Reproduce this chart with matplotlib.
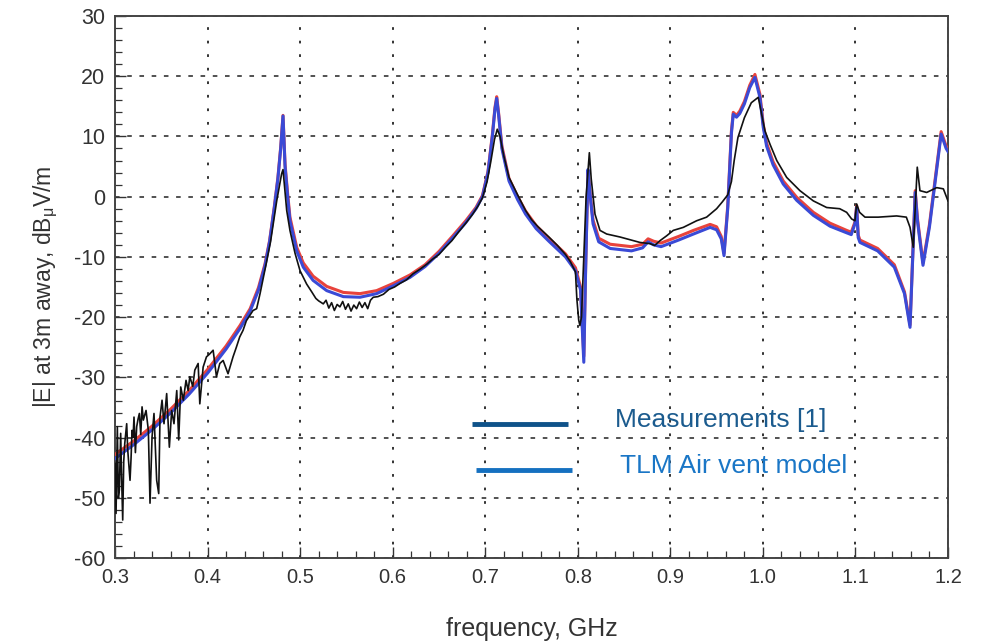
import matplotlib
matplotlib.use("Agg")
import matplotlib.pyplot as plt
from matplotlib.ticker import MultipleLocator

plt.rcParams['font.family'] = ['Liberation Sans', 'DejaVu Sans']
plt.rcParams['axes.unicode_minus'] = False
plt.rcParams['mathtext.fontset'] = 'custom'
plt.rcParams['mathtext.rm'] = 'Liberation Sans'
plt.rcParams['mathtext.it'] = 'Liberation Sans'

# model curves share one frequency grid (GHz)
f_model = [0.300, 0.320, 0.340, 0.360, 0.380, 0.400, 0.420, 0.435, 0.446, 0.455,
           0.462, 0.467, 0.472, 0.476, 0.479, 0.4815, 0.4837, 0.4865, 0.489, 0.4963,
           0.5034, 0.514, 0.5287, 0.5467, 0.5647, 0.5827, 0.6007, 0.6187, 0.635, 0.650,
           0.665, 0.679, 0.690, 0.697, 0.703, 0.7077, 0.7105, 0.7124, 0.7145, 0.718,
           0.7257, 0.735, 0.7436, 0.755, 0.7688, 0.7867, 0.7975, 0.803, 0.8065, 0.8085,
           0.811, 0.8135, 0.8165, 0.8226, 0.835, 0.858, 0.870, 0.876, 0.882, 0.890,
           0.909, 0.925, 0.943, 0.950, 0.955, 0.958, 0.962, 0.966, 0.968, 0.9715,
           0.975, 0.980, 0.9858, 0.9914, 0.9968, 1.0004, 1.004, 1.011, 1.022, 1.0365,
           1.0545, 1.0725, 1.0905, 1.0955, 1.0995, 1.1013, 1.103, 1.1049, 1.124, 1.142,
           1.153, 1.159, 1.1646, 1.167, 1.173, 1.180, 1.1926, 1.198, 1.200]

# TLM air vent model (blue)
e_tlm = [-43.5, -41.2, -38.7, -35.9, -32.8, -29.3, -25.3, -21.9, -19.0, -15.5,
         -11.5, -7.5, -2.0, 3.0, 8.0, 13.4, 5.0, 0.0, -4.0, -9.0,
         -11.7, -13.9, -15.6, -16.6, -16.7, -16.1, -14.8, -13.4, -11.6, -9.4,
         -6.8, -4.3, -2.0, 0.0, 4.0, 10.0, 14.5, 16.3, 13.5, 8.0,
         2.6, -0.5, -2.9, -5.3, -7.4, -10.0, -12.3, -15.5, -27.5, -12.0,
         4.5, 0.0, -4.5, -7.5, -8.6, -9.0, -8.5, -7.5, -8.0, -8.3,
         -7.2, -6.2, -5.1, -5.5, -7.0, -9.8, -2.0, 10.5, 13.7, 13.2,
         13.8, 15.4, 18.1, 19.8, 16.5, 11.5, 8.4, 5.3, 2.1, -0.6,
         -3.1, -4.9, -6.0, -6.3, -4.5, -1.8, -6.8, -7.6, -9.0, -11.7,
         -16.1, -21.7, 0.7, -4.0, -11.4, -5.0, 10.4, 8.0, 7.5]

# reference model (red)
e_ref = [-42.8, -40.6, -38.1, -35.3, -32.2, -28.7, -24.8, -21.4, -18.6, -15.1,
         -11.2, -7.3, -1.8, 3.2, 8.2, 13.5, 5.4, 0.5, -3.4, -8.4,
         -11.0, -13.2, -14.9, -15.9, -16.1, -15.6, -14.4, -13.0, -11.3, -9.1,
         -6.5, -4.0, -1.8, 0.2, 4.2, 10.3, 14.8, 16.6, 13.8, 8.4,
         3.0, 0.0, -2.4, -4.8, -6.9, -9.5, -11.8, -15.0, -26.5, -11.5,
         4.2, 0.3, -3.9, -6.9, -7.9, -8.3, -7.9, -7.0, -7.4, -7.7,
         -6.6, -5.6, -4.6, -5.0, -6.6, -9.4, -1.6, 10.9, 14.0, 13.5,
         14.2, 15.8, 18.5, 20.3, 17.0, 12.0, 8.9, 5.8, 2.6, -0.1,
         -2.6, -4.4, -5.6, -5.9, -4.2, -1.5, -6.4, -7.2, -8.6, -11.3,
         -15.8, -21.3, 1.0, -3.6, -11.0, -4.6, 10.8, 8.4, 7.9]

# measurement [1] (black)
f_meas = [0.3000, 0.3011, 0.3018, 0.3025, 0.3036, 0.3047, 0.3061, 0.3070, 0.3083, 0.3094,
          0.3105, 0.3115, 0.3126, 0.3137, 0.3148, 0.3162, 0.3173, 0.3184, 0.3195, 0.3205,
          0.3220, 0.3234, 0.3248, 0.3263, 0.3278, 0.3292, 0.3306, 0.3335, 0.3360, 0.3378,
          0.3400, 0.3421, 0.3450, 0.3472, 0.3486, 0.3508, 0.3529, 0.3558, 0.3587, 0.3612,
          0.3637, 0.3667, 0.3688, 0.3710, 0.3738, 0.3767, 0.3790, 0.3808, 0.3840, 0.3862,
          0.3898, 0.3916, 0.3952, 0.3988, 0.4024, 0.4060, 0.4096, 0.4132, 0.4168, 0.4221,
          0.4275, 0.4311, 0.4347, 0.4383, 0.4419, 0.4491, 0.4530, 0.4567, 0.4635, 0.4680,
          0.4747, 0.4800, 0.4815, 0.4830, 0.4855, 0.4890, 0.4945, 0.4999, 0.5070, 0.5125,
          0.5170, 0.5200, 0.525, 0.528, 0.531, 0.534, 0.537, 0.540, 0.543, 0.546,
          0.549, 0.552, 0.555, 0.558, 0.561, 0.564, 0.567, 0.570, 0.573, 0.576,
          0.579, 0.584, 0.590, 0.596, 0.602, 0.608, 0.615, 0.622, 0.630, 0.637,
          0.643, 0.650, 0.657, 0.664, 0.671, 0.679, 0.686, 0.692, 0.697, 0.702,
          0.706, 0.710, 0.713, 0.716, 0.720, 0.7257, 0.735, 0.7436, 0.750, 0.757,
          0.7688, 0.778, 0.7867, 0.792, 0.7975, 0.799, 0.801, 0.8023, 0.804, 0.806,
          0.809, 0.8125, 0.8145, 0.8186, 0.824, 0.8312, 0.8457, 0.860, 0.8672, 0.878,
          0.883, 0.8889, 0.896, 0.9032, 0.914, 0.9284, 0.9392, 0.950, 0.956, 0.962,
          0.966, 0.969, 0.973, 0.980, 0.9875, 0.995, 1.0023, 1.0077, 1.015, 1.0257,
          1.040, 1.0545, 1.0689, 1.083, 1.0905, 1.0959, 1.0995, 1.1013, 1.1045, 1.1103,
          1.1246, 1.1445, 1.155, 1.159, 1.1625, 1.1668, 1.1697, 1.177, 1.1878, 1.195,
          1.200]

e_meas = [-44.3, -52.6, -45.5, -38.2, -50.0, -48.7, -39.3, -46.0, -53.7, -44.0,
          -41.0, -39.5, -37.7, -42.0, -44.3, -47.1, -43.5, -38.8, -40.0, -36.6,
          -42.5, -38.2, -37.0, -36.0, -39.5, -34.9, -37.1, -35.5, -38.8, -50.9,
          -39.9, -36.0, -47.1, -49.3, -36.6, -33.8, -37.7, -32.7, -41.6, -35.5,
          -37.7, -32.2, -40.4, -31.6, -33.8, -30.5, -32.2, -29.9, -31.5, -28.8,
          -27.7, -34.4, -28.3, -26.6, -26.1, -25.5, -29.9, -27.7, -27.2, -29.4,
          -26.6, -25.0, -23.3, -22.2, -20.6, -18.9, -18.6, -16.1, -11.0, -7.5,
          -0.7, 3.8, 4.5, 2.0, -2.3, -5.6, -9.4, -12.3, -14.5, -15.8,
          -16.9, -17.3, -17.8, -17.2, -18.5, -17.6, -18.9, -17.9, -18.3, -17.4,
          -18.7, -17.8, -19.0, -18.0, -18.6, -17.5, -18.4, -17.6, -18.6, -17.2,
          -16.7, -16.6, -16.2, -15.4, -15.0, -14.4, -13.8, -12.8, -12.0, -11.2,
          -10.4, -9.6, -8.4, -7.3, -5.9, -4.4, -3.0, -1.6, -0.2, 2.5,
          5.8, 9.5, 11.2, 10.0, 6.8, 3.2, 0.3, -2.3, -3.8, -5.0,
          -6.7, -8.1, -9.6, -10.8, -12.5, -17.0, -20.5, -21.4, -20.0, -12.0,
          0.0, 7.3, 3.0, -2.9, -5.6, -6.2, -6.7, -7.3, -7.6, -7.8,
          -8.1, -7.3, -6.5, -5.6, -5.1, -4.0, -3.4, -2.0, -0.9, 0.3,
          2.5, 6.0, 9.8, 13.1, 15.6, 16.5, 10.9, 8.7, 6.0, 3.2,
          1.0, -0.7, -1.8, -2.0, -2.6, -3.7, -4.0, -1.2, -2.6, -3.4,
          -3.4, -3.2, -3.4, -5.1, -8.4, 4.9, 1.0, 0.7, 1.5, 1.3,
          -0.7]

legend_labels = ['Measurements [1]', 'TLM Air vent model']
legend_colors = ['#0f5289', '#1570c0']
text_colors = ['#1b5b8e', '#1a76c6']
x_ticks = [0.3, 0.4, 0.5, 0.6, 0.7, 0.8, 0.9, 1.0, 1.1, 1.2]

fig = plt.figure(figsize=(9.84, 6.43), dpi=100)
ax = fig.add_axes([0.1169, 0.1322, 0.8465, 0.8429])

ax.plot(f_model, e_ref, color='#e8433c', lw=2.2, zorder=3)
ax.plot(f_model, e_tlm, color='#3a4ad6', lw=2.2, zorder=4)
ax.plot(f_meas, e_meas, color='#111111', lw=1.2, zorder=5)

ax.set_xlim(0.3, 1.2)
ax.set_ylim(-60, 30)
ax.set_xticks(x_ticks)
ax.set_xticklabels(['%.1f' % v for v in x_ticks])
ax.xaxis.set_minor_locator(MultipleLocator(0.02))
ax.yaxis.set_major_locator(MultipleLocator(10))
ax.yaxis.set_minor_locator(MultipleLocator(2))

ax.tick_params(which='both', direction='in', top=False, right=False, colors='#333333')
ax.tick_params(which='major', length=8, width=1.0)
ax.tick_params(which='minor', length=5, width=0.9)
ax.tick_params(axis='y', labelsize=15.5, pad=7)
ax.tick_params(axis='x', labelsize=14.5, pad=7)

ax.grid(axis='y', which='major', color='#222222', lw=1.1, linestyle=(0, (3, 5)))
ax.grid(axis='x', which='major', color='#222222', lw=1.3, linestyle=(0, (1.5, 6)))
for s in ax.spines.values():
    s.set_color('#444444')
    s.set_linewidth(1.4)

ax.set_xlabel('frequency, GHz', fontsize=18, color='#333333', labelpad=22)
ax.set_ylabel(r'|E| at 3m away, dB$_{\mathrm{\mu}}$V/m', fontsize=16.5, color='#333333', labelpad=10)

# legend drawn as in the original figure
leg_y = [0.247, 0.162]
for i in range(2):
    ax.plot([0.429 + 0.004 * i, 0.544 + 0.005 * i], [leg_y[i], leg_y[i]],
            transform=ax.transAxes, color=legend_colors[i], lw=3.5, zorder=6,
            solid_capstyle='butt')
    ax.text(0.600 + 0.006 * i, leg_y[i] + 0.007, legend_labels[i], transform=ax.transAxes,
            color=text_colors[i], fontsize=19, va='center', ha='left', zorder=6)

fig.savefig('out.png', dpi=100)
